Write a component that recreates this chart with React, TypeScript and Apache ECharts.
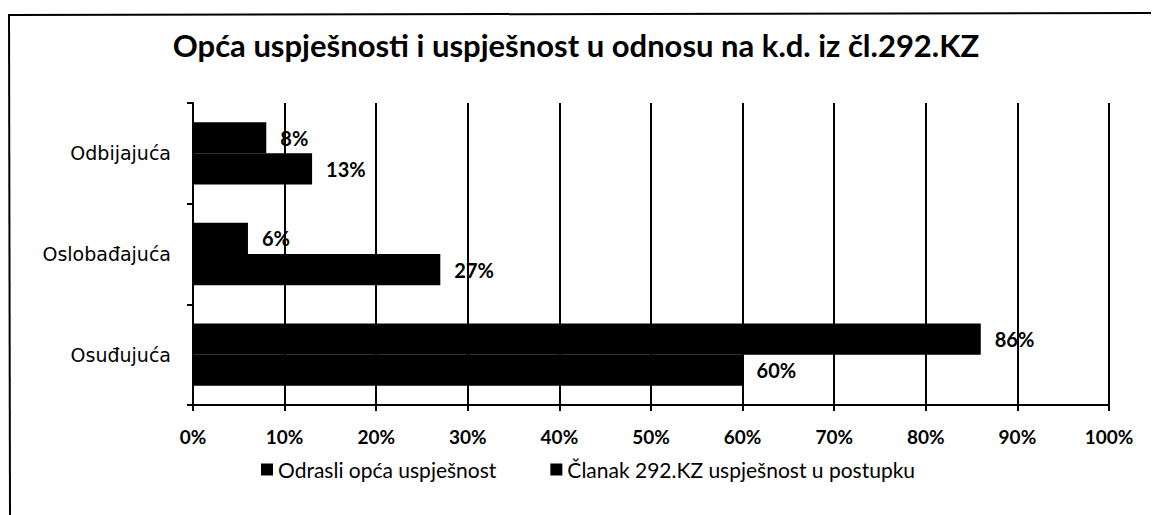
import React, { useEffect, useRef } from "react";
import * as echarts from "echarts";

const TITLE = "Opća uspješnosti i uspješnost u odnosu na k.d. iz čl.292.KZ";
const categories = ["Odbijajuća", "Oslobađajuća", "Osuđujuća"];
const seriesNames = ["Odrasli opća uspješnost", "Članak 292.KZ uspješnost u postupku"];
const odrasli = [8, 6, 86];
const clanak = [13, 27, 60];
const xTicks = [0, 10, 20, 30, 40, 50, 60, 70, 80, 90, 100];

export default function App() {
  const ref = useRef<HTMLDivElement>(null);
  useEffect(() => {
    if (!ref.current) return;
    const chart = echarts.init(ref.current, null, { renderer: "svg" });
    const labelStyle = {
      show: true,
      position: "right",
      distance: 14,
      formatter: "{c}%",
      color: "#000",
      fontFamily: "Lato",
      fontWeight: "bold",
      fontSize: 20,
    };
    chart.setOption({
      animation: false,
      backgroundColor: "#fff",
      title: {
        text: TITLE,
        left: "center",
        top: 24,
        textStyle: { fontFamily: "Lato", fontWeight: "bold", fontSize: 31, color: "#000" },
      },
      graphic: [
        { type: "line", shape: { x1: 8, y1: 15, x2: 1151, y2: 13 }, style: { stroke: "#000", lineWidth: 2 } },
        { type: "line", shape: { x1: 9, y1: 14, x2: 10, y2: 515 }, style: { stroke: "#000", lineWidth: 2 } },
      ],
      legend: {
        bottom: 30,
        left: 256,
        itemGap: 54,
        itemWidth: 12,
        itemHeight: 12,
        icon: "rect",
        textStyle: { fontFamily: "Lato", fontSize: 21, color: "#000" },
        data: seriesNames,
      },
      grid: { left: 193, right: 43, top: 103, bottom: 110, containLabel: false },
      xAxis: {
        type: "value",
        min: xTicks[0],
        max: xTicks[xTicks.length - 1],
        interval: 10,
        axisLine: { show: true, lineStyle: { color: "#000", width: 2 } },
        axisTick: { show: true, length: 6, lineStyle: { color: "#000", width: 2 } },
        splitLine: { show: true, lineStyle: { color: "#000", width: 2 } },
        axisLabel: {
          formatter: "{value}%",
          margin: 22,
          color: "#000",
          fontFamily: "Lato",
          fontWeight: "bold",
          fontSize: 19,
        },
      },
      yAxis: {
        type: "category",
        inverse: true,
        data: categories,
        axisLine: { show: true, lineStyle: { color: "#000", width: 2 } },
        axisTick: { show: true, length: 6, lineStyle: { color: "#000", width: 2 } },
        axisLabel: {
          margin: 22,
          color: "#000",
          fontFamily: "DejaVu Sans",
          fontSize: 19,
        },
      },
      series: [
        {
          name: seriesNames[0],
          type: "bar",
          data: odrasli,
          barGap: "0%",
          barCategoryGap: "38%",
          itemStyle: { color: "#000" },
          label: labelStyle,
        },
        {
          name: seriesNames[1],
          type: "bar",
          data: clanak,
          barGap: "0%",
          barCategoryGap: "38%",
          itemStyle: { color: "#000" },
          label: labelStyle,
        },
      ],
    });
    return () => chart.dispose();
  }, []);
  return <div ref={ref} style={{ position: "absolute", left: 0, top: 0, width: 1152, height: 515 }} />;
}
